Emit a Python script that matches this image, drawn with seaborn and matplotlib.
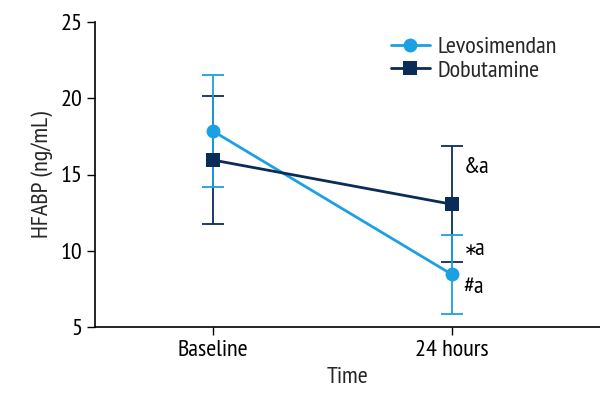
import numpy as np
import pandas as pd
import matplotlib
matplotlib.use("Agg")
import matplotlib.pyplot as plt
import seaborn as sns

# values
times = ["Baseline", "24 hours"]
levo_mean = [17.85, 8.45]
levo_sd = [3.7, 2.6]
dobu_mean = [15.95, 13.05]
dobu_sd = [4.2, 3.8]
groups = ["Levosimendan", "Dobutamine"]
notes = ["&a", "\u2217a", "#a"]
note_y = [15.43, 10.05, 7.56]

colors = {"Levosimendan": "#1ba1e2", "Dobutamine": "#0b2c58"}
markers = {"Levosimendan": "o", "Dobutamine": "s"}

sns.set_theme(style="ticks")
plt.rcParams["font.family"] = ["PT Sans Narrow", "DejaVu Sans"]

df = pd.DataFrame({
    "Time": times * 2,
    "pos": [0, 1] * 2,
    "mean": levo_mean + dobu_mean,
    "sd": levo_sd + dobu_sd,
    "group": [groups[0]] * 2 + [groups[1]] * 2,
})

fig = plt.figure(figsize=(6, 4), dpi=100)
ax = fig.add_axes([0.158, 0.1825, 0.842, 0.7625])

# error bars first so lines sit on top
for g in groups[::-1]:
    d = df[df["group"] == g]
    ax.errorbar(d["pos"], d["mean"], yerr=d["sd"], fmt="none",
                ecolor=colors[g], elinewidth=1.3, capsize=8, capthick=1.3, zorder=2)

sns.lineplot(data=df, x="pos", y="mean", hue="group", style="group",
             hue_order=groups, style_order=groups,
             palette=colors, markers=markers, dashes=False,
             linewidth=2, markersize=10, markeredgewidth=0, ax=ax, zorder=3)

# significance notes; the asterisk glyph comes from DejaVu, so keep it small
for t, yv in zip(notes, note_y):
    if t.startswith("\u2217"):
        ax.text(1.05, yv, t[0], fontsize=12, va="center", ha="left",
                color="black", family="DejaVu Sans")
        ax.text(1.095, yv, t[1:], fontsize=17.5, va="center", ha="left", color="black")
    else:
        ax.text(1.05, yv, t, fontsize=17.5, va="center", ha="left", color="black")

ax.set_xlim(-0.494, 1.62)
ax.set_ylim(5, 25)
ax.set_yticks([5, 10, 15, 20, 25])
ax.set_xticks([0, 1])
ax.set_xticklabels(times)
ax.set_xlabel("Time", fontsize=17.5, labelpad=5)
ax.set_ylabel("HFABP (ng/mL)", fontsize=17.5, labelpad=5)
ax.tick_params(labelsize=17.5, length=6, width=1, colors="black", pad=3)
for s in ["top", "right"]:
    ax.spines[s].set_visible(False)
for s in ["left", "bottom"]:
    ax.spines[s].set_linewidth(1.2)
    ax.spines[s].set_color("black")

leg = ax.legend(loc="upper left", bbox_to_anchor=(0.567, 0.985), frameon=False,
                fontsize=17.5, handlelength=1.6, handletextpad=0.3,
                labelspacing=0.05, borderaxespad=0)

fig.savefig("out.png", dpi=100)
